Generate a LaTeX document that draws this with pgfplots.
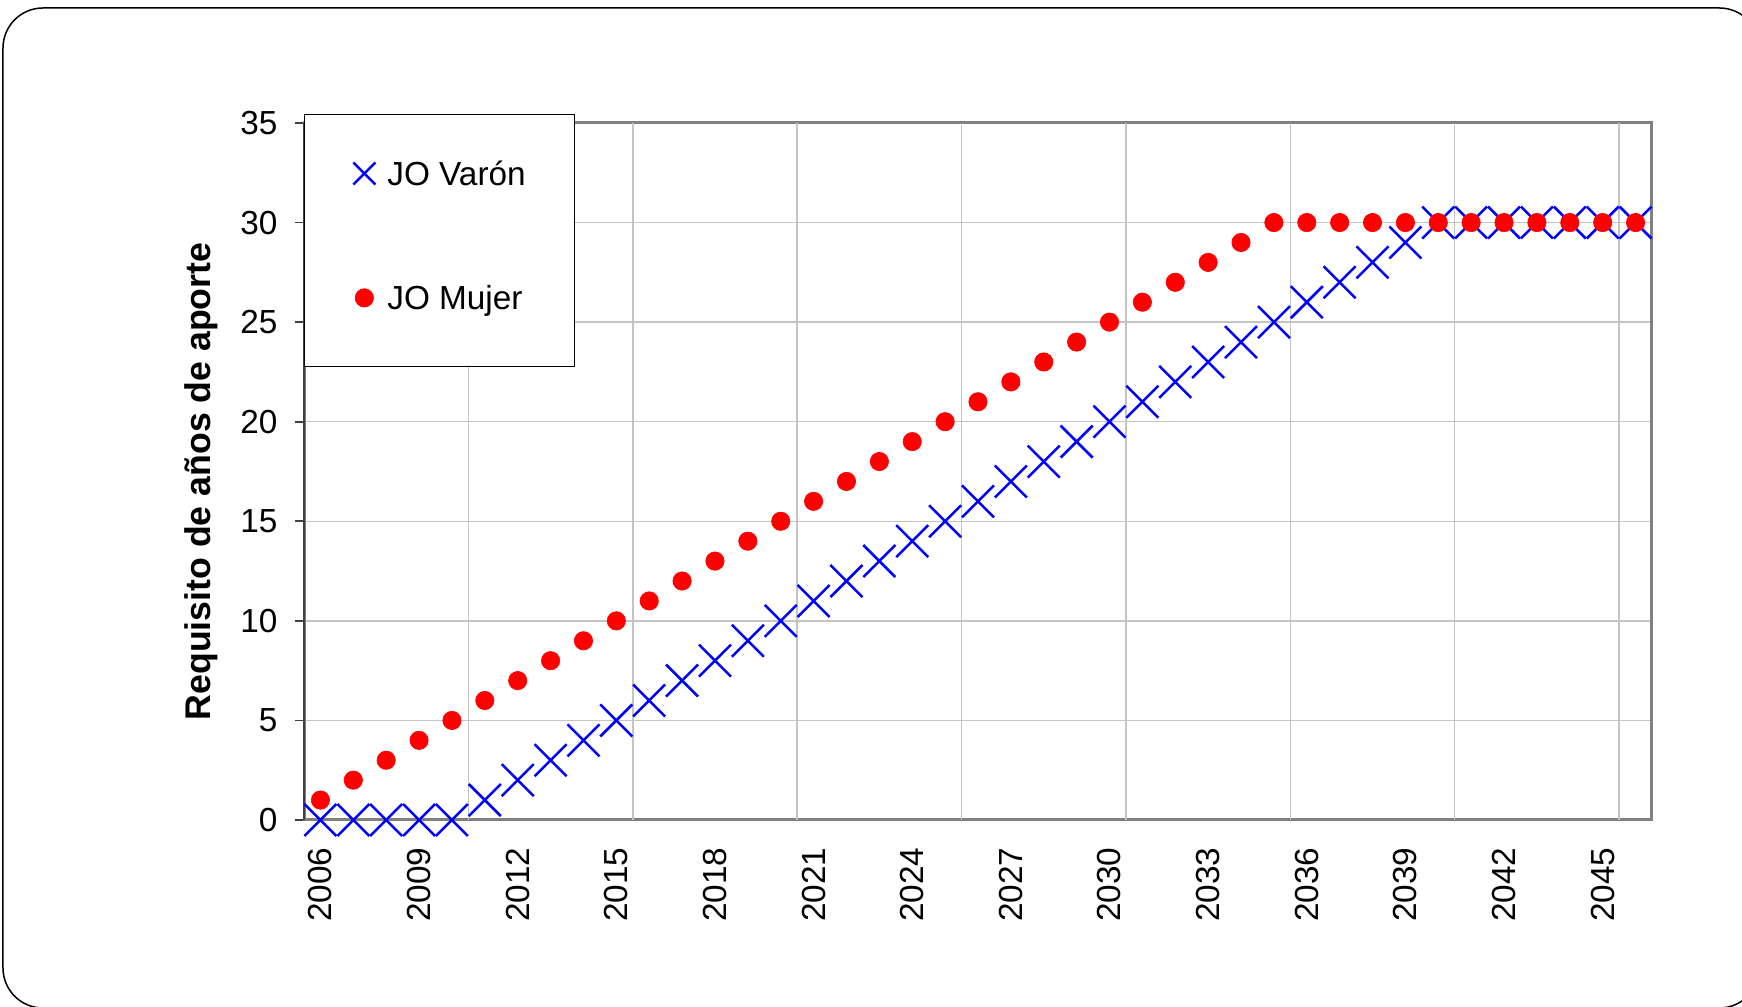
\documentclass[border=0pt]{standalone}
\usepackage{pgfplots}
\pgfplotsset{compat=1.18}
\usepackage{fontspec}
\setmainfont{Liberation Sans}
\definecolor{xblue}{RGB}{0,0,255}
\definecolor{dred}{RGB}{255,0,0}
\definecolor{gridc}{RGB}{196,196,196}
\definecolor{boxc}{RGB}{128,128,128}
\pgfplotsset{
  varonimg/.style={legend image code/.code={\path[draw=none] (-3.3pt,-6.6pt) rectangle (3.3pt,3.6pt); \draw[##1, mark size=4.67pt] plot coordinates {(0pt,0pt)};}},
  mujerimg/.style={legend image code/.code={\path[draw=none] (-3.3pt,-6.6pt) rectangle (3.3pt,3.6pt); \draw[##1] plot coordinates {(0pt,0pt)};}},
}
\pgfplotstableread{
idx varon mujer
0 0 1
1 0 2
2 0 3
3 0 4
4 0 5
5 1 6
6 2 7
7 3 8
8 4 9
9 5 10
10 6 11
11 7 12
12 8 13
13 9 14
14 10 15
15 11 16
16 12 17
17 13 18
18 14 19
19 15 20
20 16 21
21 17 22
22 18 23
23 19 24
24 20 25
25 21 26
26 22 27
27 23 28
28 24 29
29 25 30
30 26 30
31 27 30
32 28 30
33 29 30
34 30 30
35 30 30
36 30 30
37 30 30
38 30 30
39 30 30
40 30 30
}\datatab
\begin{document}
\begin{tikzpicture}
\useasboundingbox (0,0) rectangle (522.6pt,302.1pt);
\draw[black, line width=0.45pt, rounded corners=12pt] (0.9pt,-0.3pt) rectangle (527.8pt,299.7pt);
\begin{axis}[
  at={(91.2pt,56.1pt)}, anchor=south west,
  scale only axis, width=404.4pt, height=209.1pt,
  xmin=-0.5, xmax=40.5, ymin=0, ymax=35,
  clip=false,
  xtick={0,3,...,39},
  xticklabels={2006,2009,2012,2015,2018,2021,2024,2027,2030,2033,2036,2039,2042,2045},
  ytick={0,5,...,35},
  ytick pos=left, xtick pos=bottom,
  ymajorgrids=true,
  extra x ticks={4.5,9.5,...,39.5},
  extra x tick labels={},
  extra x tick style={grid=major, major tick length=0pt},
  grid style={color=gridc, line width=0.45pt},
  axis line style={color=boxc, line width=0.9pt},
  tick align=outside,
  major tick length=2.7pt,
  xtick style={draw=none},
  ytick style={color=black!75, line width=0.5pt},
  /pgf/number format/assume math mode=true,
  tick label style={font=\fontsize{10}{12}\selectfont, inner sep=0pt},
  xticklabel style={rotate=90, anchor=east},
  xticklabel shift=5.4pt,
  yticklabel shift=5.1pt,
  ylabel={Requisito de años de aporte},
  every axis y label/.style={at={(axis description cs:-0.0697,0.4857)}, rotate=90, anchor=base, font=\fontsize{10.7}{12}\selectfont\bfseries, inner sep=0pt},
  legend style={at={(axis description cs:0,1.0129)}, anchor=north west,
    draw=black, line width=0.4pt, fill=white,
    inner xsep=14.6pt, inner ysep=14.06pt, row sep=27.1pt, column sep=3.6pt,
    font=\fontsize{10}{12}\selectfont,
    nodes={inner sep=0pt, text height=7.2pt, text depth=0pt}},
  legend cell align=left,
]
\addplot[only marks, mark=x, mark size=6.79pt, color=xblue, line width=0.75pt, varonimg]
  table[x=idx, y=varon] {\datatab};
\addlegendentry{JO Varón}
\addplot[only marks, mark=*, mark size=2.75pt, color=dred, mark options={draw=dred, fill=dred, line width=0.2pt}, mujerimg]
  table[x=idx, y=mujer] {\datatab};
\addlegendentry{JO Mujer}
\draw[black!75, line width=0.6pt] (rel axis cs:0,0) -- (rel axis cs:0,1);
\end{axis}
\end{tikzpicture}
\end{document}
